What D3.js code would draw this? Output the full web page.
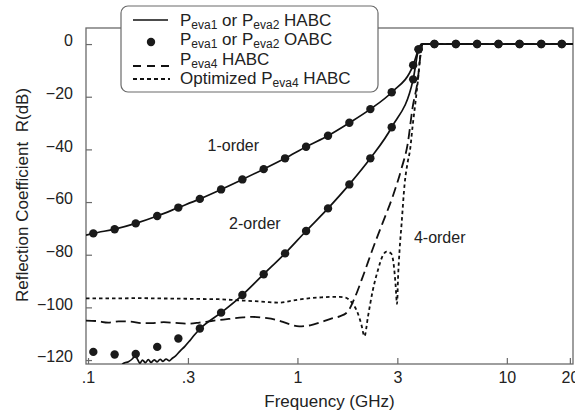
<!DOCTYPE html>
<html><head><meta charset="utf-8">
<script src="https://cdn.jsdelivr.net/npm/d3@7/dist/d3.min.js"></script>
<style>
html,body{margin:0;padding:0;background:#fff;}
svg{display:block;font-family:"Liberation Sans",Arial,Helvetica,sans-serif;}
text{white-space:pre;}
</style></head><body>
<svg id="chart" width="575" height="415"></svg>
<script>
// ---------------- data ----------------
const xTickValues = [0.1, 0.3, 1, 3, 10, 20];
const xTickLabels = [".1", ".3", "1", "3", "10", "20"];
const yTickValues = [0, -20, -40, -60, -80, -100, -120];

// OABC markers (Peva1 or Peva2), 1-order and 2-order
const freqOABC = [0.106, 0.134, 0.169, 0.214, 0.270, 0.342, 0.432, 0.546, 0.690, 0.873, 1.10, 1.40, 1.77, 2.23, 2.82, 3.57, 3.79, 4.51, 5.71, 7.21, 9.12, 11.5, 14.6, 18.3];
const r1OABC = [-71.9, -70.3, -68.1, -65.3, -62.1, -58.8, -55.2, -51.4, -47.5, -43.4, -39.0, -34.8, -29.9, -24.7, -18.3, -8.0, -2.0, 0, 0, 0, 0, 0, 0, 0];
const r2OABC = [-116.9, -117.9, -117.7, -115.0, -111.8, -108.0, -102.0, -95.3, -87.4, -79.5, -71.0, -62.4, -53.3, -43.4, -31.6, -13.4, -2.0, 0, 0, 0, 0, 0, 0, 0];

// HABC 1-order (solid)
const freq1HABC = [0.0978, 0.106, 0.134, 0.169, 0.214, 0.270, 0.342, 0.432, 0.546, 0.690, 0.873, 1.10, 1.40, 1.77, 2.23, 2.82, 3.57, 3.79, 3.92, 20.7];
const r1HABC = [-72.6, -71.9, -70.3, -68.1, -65.3, -62.1, -58.8, -55.2, -51.4, -47.5, -43.4, -39.0, -34.8, -29.9, -24.7, -18.3, -8.0, -2.0, 0, 0];

// HABC 2-order (solid)
const freq2HABC = [0.0978, 0.138, 0.148, 0.156, 0.163, 0.168, 0.172, 0.177, 0.182, 0.188, 0.194, 0.200, 0.207, 0.214, 0.221, 0.228, 0.236, 0.244, 0.252, 0.262, 0.275, 0.290, 0.305, 0.322, 0.342, 0.432, 0.546, 0.690, 0.873, 1.10, 1.40, 1.77, 2.23, 2.82, 3.57, 3.79, 3.92, 20.7];
const r2HABC = [-130, -124, -121.2, -120.6, -119.5, -118.2, -119.6, -121.2, -120.0, -121.0, -119.8, -120.9, -119.9, -120.7, -119.7, -120.5, -119.6, -120.3, -119.4, -118.4, -116.6, -114.8, -112.8, -110.5, -108.2, -102.0, -95.3, -87.4, -79.5, -71.0, -62.4, -53.3, -43.4, -31.6, -13.4, -2.0, 0, 0];

// Peva4 HABC 4-order (dashed)
const freq4HABC = [0.0978, 0.11, 0.125, 0.14, 0.16, 0.18, 0.20, 0.23, 0.26, 0.30, 0.34, 0.40, 0.47, 0.55, 0.61, 0.70, 0.80, 0.90, 1.02, 1.15, 1.30, 1.45, 1.59, 1.735, 1.874, 2.07, 2.283, 2.55, 2.848, 3.147, 3.36, 3.55, 3.75, 3.875, 3.96, 20.7];
const r4HABC = [-105.0, -105.2, -105.8, -105.3, -105.4, -106.0, -106.0, -105.6, -105.9, -106.2, -105.8, -105.0, -104.4, -103.8, -103.6, -104.0, -104.8, -106.2, -107.2, -106.8, -105.6, -104.3, -103.4, -101.7, -96.5, -87.5, -78.0, -68.0, -58.0, -47.0, -38.0, -24.0, -14.0, -4.0, 0, 0];

// Optimized Peva4 HABC (dotted)
const freq4Opt = [0.0978, 0.13, 0.17, 0.22, 0.28, 0.34, 0.42, 0.52, 0.61, 0.70, 0.82, 0.92, 1.02, 1.15, 1.30, 1.45, 1.59, 1.70, 1.806, 1.944, 2.02, 2.09, 2.171, 2.292, 2.424, 2.55, 2.665, 2.80, 2.88, 2.94, 2.99, 3.026, 3.076, 3.145, 3.251, 3.36, 3.453, 3.55, 3.65, 3.763, 3.878, 3.964, 20.7];
const r4Opt = [-96.6, -96.6, -96.5, -96.6, -96.7, -96.8, -96.9, -97.3, -97.6, -97.9, -98.2, -97.6, -97.0, -96.5, -96.2, -96.0, -96.0, -96.3, -97.9, -102.3, -106.5, -111.0, -103.6, -93.4, -85.8, -80.5, -78.8, -79.5, -83.5, -91.0, -98.7, -88.0, -78.0, -68.0, -53.0, -45.0, -40.0, -31.0, -23.0, -13.7, -3.0, 0, 0];

const legendLabels = [
  [{t:"P"},{t:"eva1",sub:true},{t:" or P"},{t:"eva2",sub:true},{t:" HABC"}],
  [{t:"P"},{t:"eva1",sub:true},{t:" or P"},{t:"eva2",sub:true},{t:" OABC"}],
  [{t:"P"},{t:"eva4",sub:true},{t:" HABC"}],
  [{t:"Optimized P"},{t:"eva4",sub:true},{t:" HABC"}]
];
const annotations = [
  {text:"1-order", f:0.494, r:-38.4},
  {text:"2-order", f:0.626, r:-68.0},
  {text:"4-order", f:4.78, r:-73.3}
];

// ---------------- layout ----------------
const svg = d3.select("#chart");
const L = 86, R = 573, T = 28, B = 364;
const x = d3.scaleLog().domain([0.0978, 20.7]).range([L, R]);
const y = d3.scaleLinear().domain([-121.5, 6.1]).range([B, T]);
const frameColor = "#6a6a6a";

svg.append("defs").append("clipPath").attr("id","clip")
  .append("rect").attr("x",L).attr("y",T).attr("width",R-L).attr("height",B-T);

// frame
svg.append("rect").attr("x",L).attr("y",T).attr("width",R-L).attr("height",B-T)
  .attr("fill","none").attr("stroke",frameColor).attr("stroke-width",1.3);

// axes
const xAxis = svg.append("g").attr("transform",`translate(0,${B})`)
  .call(d3.axisBottom(x).tickValues(xTickValues).tickFormat((d,i)=>xTickLabels[i]).tickSize(-6).tickPadding(8));
xAxis.select(".domain").remove();
xAxis.selectAll("line").attr("stroke",frameColor).attr("stroke-width",1.2);
xAxis.selectAll("text").attr("font-size",16).attr("font-family",null).attr("fill","#222");

const yAxis = svg.append("g").attr("transform",`translate(${L},0)`)
  .call(d3.axisLeft(y).tickValues(yTickValues).tickFormat(d3.format("d")).tickSize(-6).tickPadding(13));
yAxis.select(".domain").remove();
yAxis.selectAll("line").attr("stroke",frameColor).attr("stroke-width",1.2);
yAxis.selectAll("text").attr("font-size",16).attr("font-family",null).attr("fill","#222").attr("dy","0.12em");

// axis titles
svg.append("text").attr("x",(L+R)/2).attr("y",407).attr("text-anchor","middle")
  .attr("font-size",17).attr("fill","#222").text("Frequency (GHz)");
svg.append("text").attr("transform","translate(28,195) rotate(-90)").attr("text-anchor","middle")
  .attr("font-size",17).attr("fill","#222").text("Reflection Coefficient  R(dB)");

// curves
const plot = svg.append("g").attr("clip-path","url(#clip)");
const line = d3.line().x(d=>x(d[0])).y(d=>y(d[1])).curve(d3.curveMonotoneX);
const zip = (a,b)=>a.map((v,i)=>[v,b[i]]);

plot.append("path").datum(zip(freq4Opt,r4Opt)).attr("d",line)
  .attr("fill","none").attr("stroke","#111").attr("stroke-width",1.8).attr("stroke-dasharray","3.5,3");
plot.append("path").datum(zip(freq4HABC,r4HABC)).attr("d",line)
  .attr("fill","none").attr("stroke","#111").attr("stroke-width",1.8).attr("stroke-dasharray","10,5");
plot.append("path").datum(zip(freq1HABC,r1HABC)).attr("d",line)
  .attr("fill","none").attr("stroke","#111").attr("stroke-width",1.7);
plot.append("path").datum(zip(freq2HABC,r2HABC)).attr("d",line)
  .attr("fill","none").attr("stroke","#111").attr("stroke-width",1.7);

plot.selectAll("circle.o1").data(zip(freqOABC,r1OABC)).join("circle").attr("class","o1")
  .attr("cx",d=>x(d[0])).attr("cy",d=>y(d[1])).attr("r",4.2).attr("fill","#1a1a1a");
plot.selectAll("circle.o2").data(zip(freqOABC,r2OABC)).join("circle").attr("class","o2")
  .attr("cx",d=>x(d[0])).attr("cy",d=>y(d[1])).attr("r",4.2).attr("fill","#1a1a1a");

// annotations
svg.selectAll("text.ann").data(annotations).join("text").attr("class","ann")
  .attr("x",d=>x(d.f)).attr("y",d=>y(d.r)).attr("dy","0.35em").attr("text-anchor","middle")
  .attr("font-size",16).attr("fill","#222").text(d=>d.text);

// legend
const lg = svg.append("g");
lg.append("rect").attr("x",121).attr("y",6).attr("width",257).attr("height",86).attr("rx",7)
  .attr("fill","#fff").attr("stroke",frameColor).attr("stroke-width",1.2);
const rowBase = [25.5, 45, 64.5, 84];
const sampleY = [20, 42, 66, 79];
lg.append("line").attr("x1",133).attr("x2",168).attr("y1",sampleY[0]).attr("y2",sampleY[0]).attr("stroke","#111").attr("stroke-width",1.7);
lg.append("circle").attr("cx",151).attr("cy",sampleY[1]).attr("r",4.2).attr("fill","#1a1a1a");
lg.append("line").attr("x1",133).attr("x2",170).attr("y1",sampleY[2]).attr("y2",sampleY[2]).attr("stroke","#111").attr("stroke-width",1.8).attr("stroke-dasharray","8,6");
lg.append("line").attr("x1",133).attr("x2",170).attr("y1",sampleY[3]).attr("y2",sampleY[3]).attr("stroke","#111").attr("stroke-width",1.8).attr("stroke-dasharray","4,3");
legendLabels.forEach((segs,i)=>{
  const t = lg.append("text").attr("x",180).attr("y",rowBase[i]).attr("font-size",17).attr("fill","#222");
  let shifted = false;
  segs.forEach(s=>{
    const ts = t.append("tspan").text(s.t);
    if (s.sub && !shifted){ ts.attr("dy",3).attr("font-size",12); shifted = true; }
    else if (!s.sub && shifted){ ts.attr("dy",-3); shifted = false; }
    else if (s.sub) ts.attr("font-size",12);
  });
});
</script>
</body></html>
